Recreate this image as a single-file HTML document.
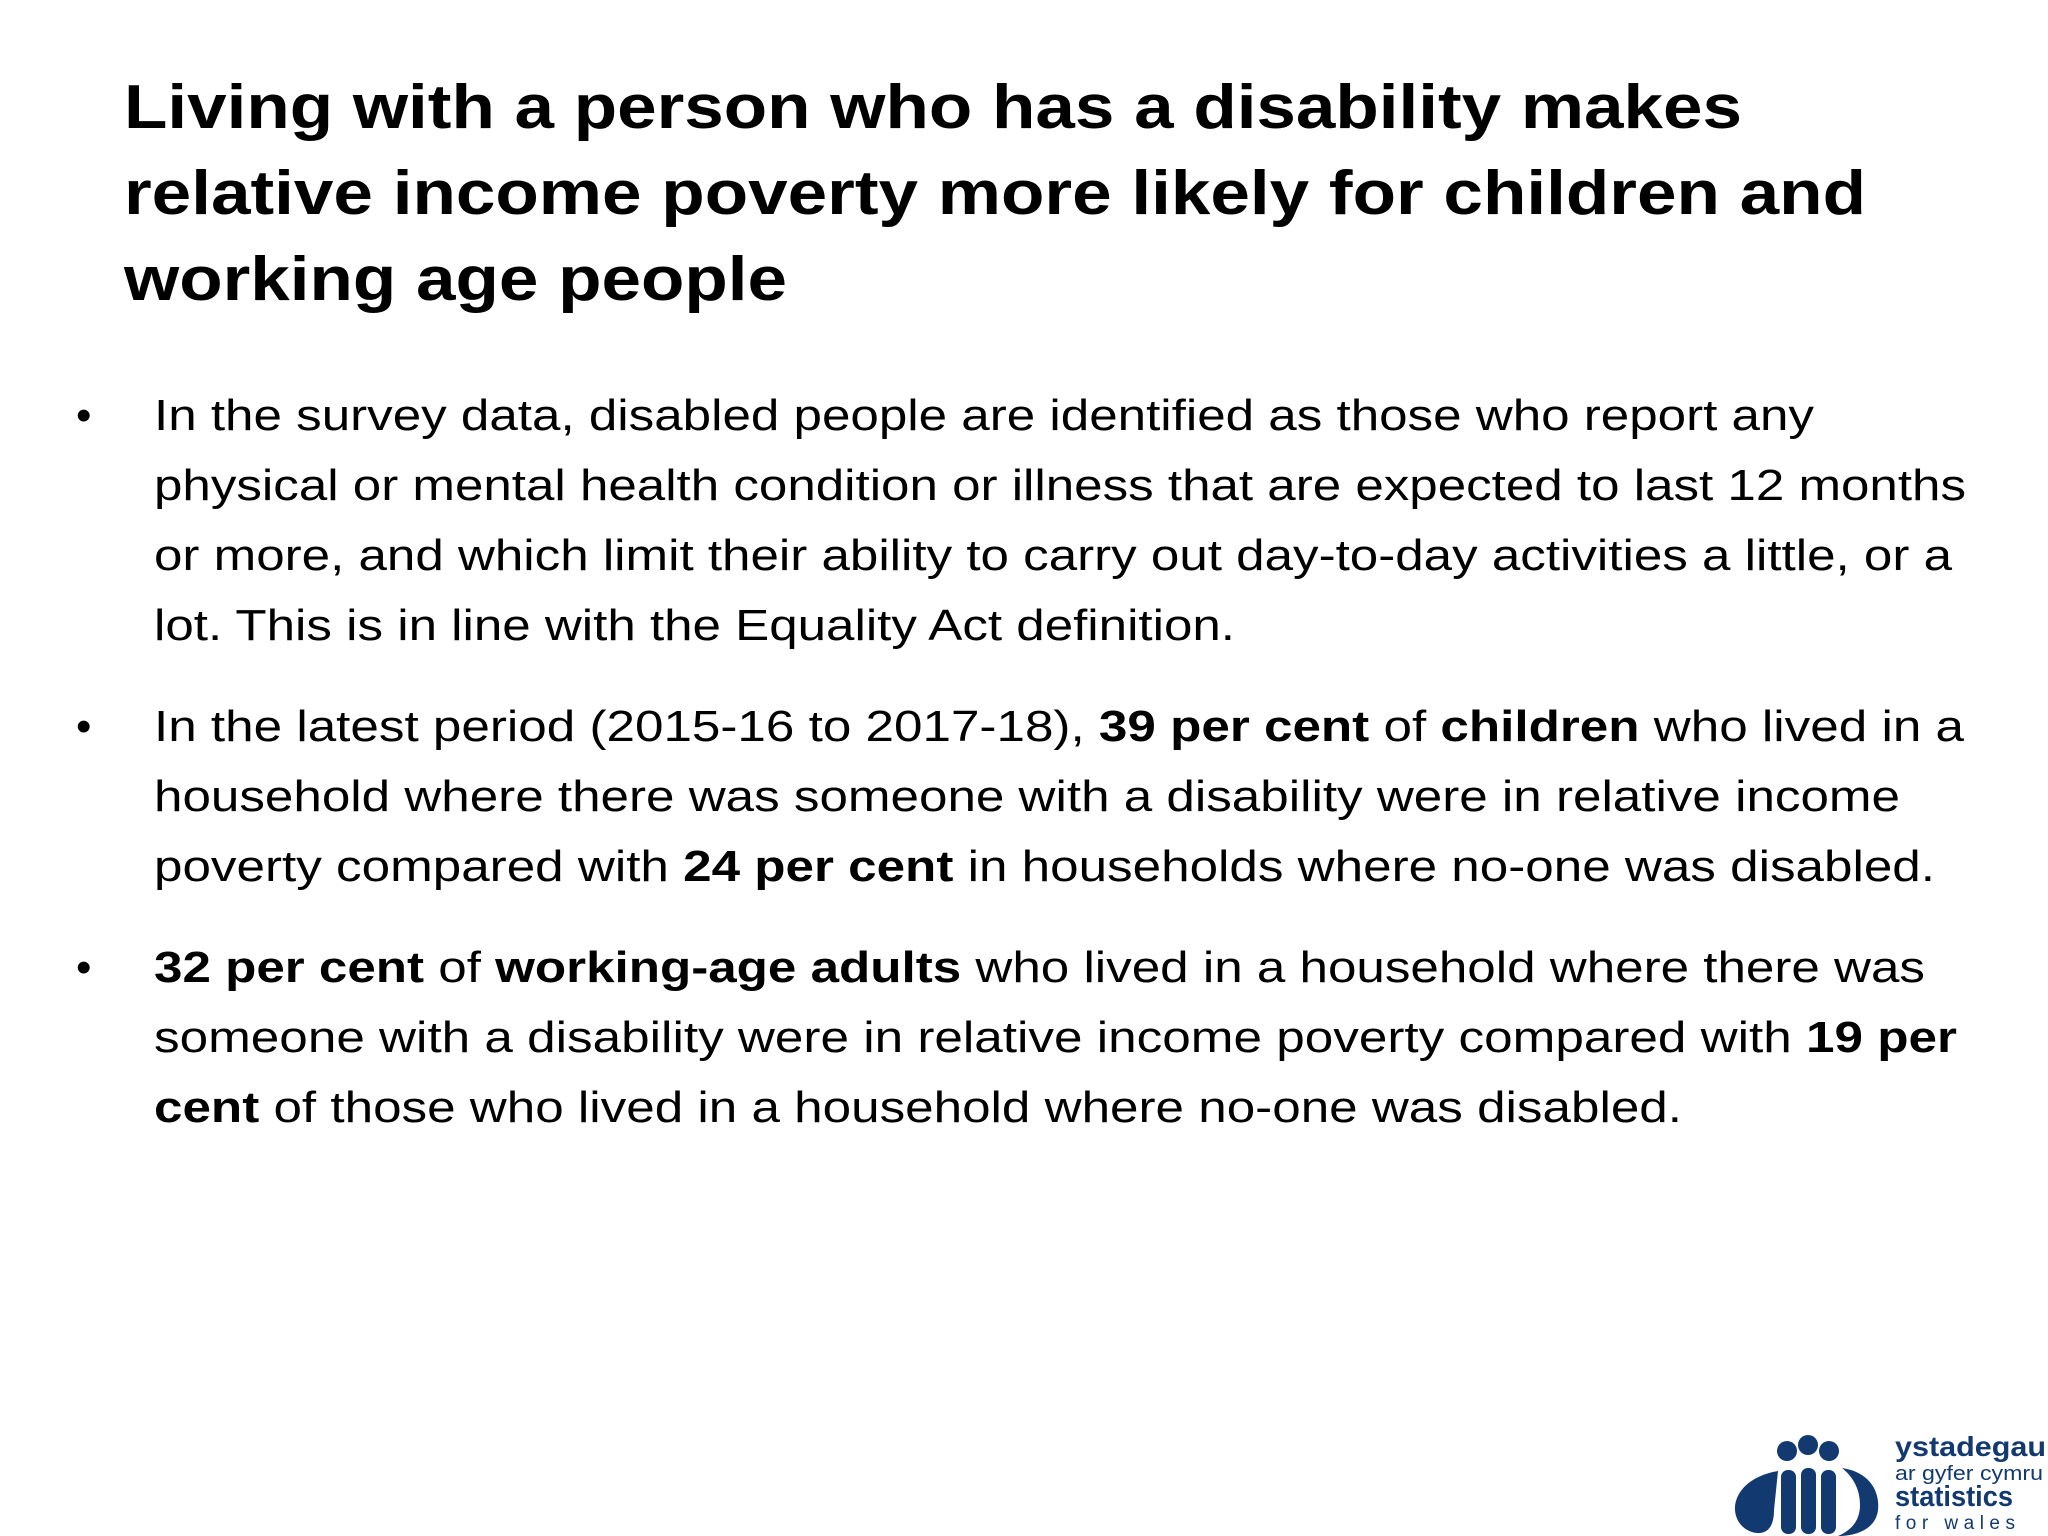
<!DOCTYPE html>
<html><head><meta charset="utf-8"><style>
html,body{margin:0;padding:0;background:#fff}
svg{display:block}
text{font-family:"Liberation Sans",Arial,sans-serif;fill:#000}
.t{font-size:62px;font-weight:bold}
.b{font-size:44px}
.bold{font-weight:bold}
</style></head><body>
<svg width="2048" height="1536" viewBox="0 0 2048 1536">
<g>
<text class="t" x="124" y="128" textLength="1618" lengthAdjust="spacingAndGlyphs">Living with a person who has a disability makes</text>
<text class="t" x="124" y="214" textLength="1742" lengthAdjust="spacingAndGlyphs">relative income poverty more likely for children and</text>
<text class="t" x="124" y="300" textLength="663" lengthAdjust="spacingAndGlyphs">working age people</text>
</g>
<g>
<text class="b" x="76" y="430">•</text>
<text class="b" x="154" y="430" textLength="1660" lengthAdjust="spacingAndGlyphs">In the survey data, disabled people are identified as those who report any</text>
<text class="b" x="154" y="500" textLength="1812" lengthAdjust="spacingAndGlyphs">physical or mental health condition or illness that are expected to last 12 months</text>
<text class="b" x="154" y="570" textLength="1798" lengthAdjust="spacingAndGlyphs">or more, and which limit their ability to carry out day-to-day activities a little, or a</text>
<text class="b" x="154" y="640" textLength="1081" lengthAdjust="spacingAndGlyphs">lot. This is in line with the Equality Act definition.</text>
</g>
<g>
<text class="b" x="76" y="741">•</text>
<text class="b" x="154" y="741" textLength="1810" lengthAdjust="spacingAndGlyphs">In the latest period (2015-16 to 2017-18), <tspan class="bold">39 per cent</tspan> of <tspan class="bold">children</tspan> who lived in a</text>
<text class="b" x="154" y="811" textLength="1746" lengthAdjust="spacingAndGlyphs">household where there was someone with a disability were in relative income</text>
<text class="b" x="154" y="881" textLength="1781" lengthAdjust="spacingAndGlyphs">poverty compared with <tspan class="bold">24 per cent</tspan> in households where no-one was disabled.</text>
</g>
<g>
<text class="b" x="76" y="982">•</text>
<text class="b" x="154" y="982" textLength="1771" lengthAdjust="spacingAndGlyphs"><tspan class="bold">32 per cent</tspan> of <tspan class="bold">working-age adults</tspan> who lived in a household where there was</text>
<text class="b" x="154" y="1052" textLength="1803" lengthAdjust="spacingAndGlyphs">someone with a disability were in relative income poverty compared with <tspan class="bold">19 per</tspan></text>
<text class="b" x="154" y="1122" textLength="1528" lengthAdjust="spacingAndGlyphs"><tspan class="bold">cent</tspan> of those who lived in a household where no-one was disabled.</text>
</g>
<g fill="#133a70">
<circle cx="1787" cy="1451" r="10"/>
<circle cx="1808" cy="1445" r="10"/>
<circle cx="1829" cy="1451" r="10"/>
<path d="M1778,1471 C1748,1476 1734,1494 1735,1510 C1736,1526 1750,1534 1760,1533 C1770,1532 1774,1523 1774,1510 Z"/>
<rect x="1781" y="1470" width="15" height="64" rx="7"/>
<rect x="1801" y="1468" width="15" height="66" rx="7"/>
<rect x="1821" y="1470" width="15" height="64" rx="7"/>
<path d="M1842,1468 C1870,1472 1880,1492 1878,1510 C1876,1528 1858,1536 1838,1536 C1852,1530 1860,1520 1860,1505 C1860,1488 1852,1476 1842,1468 Z"/>
<text x="1895" y="1456" style="font-size:28px;font-weight:bold;fill:#133a70" textLength="151" lengthAdjust="spacingAndGlyphs">ystadegau</text>
<text x="1895" y="1480" style="font-size:20px;fill:#133a70" textLength="148" lengthAdjust="spacingAndGlyphs">ar gyfer cymru</text>
<text x="1895" y="1506" style="font-size:29px;font-weight:bold;fill:#133a70" textLength="118" lengthAdjust="spacingAndGlyphs">statistics</text>
<text x="1895" y="1529" style="font-size:19px;fill:#133a70" textLength="120" lengthAdjust="spacing">for wales</text>
</g>
</svg>
</body></html>
